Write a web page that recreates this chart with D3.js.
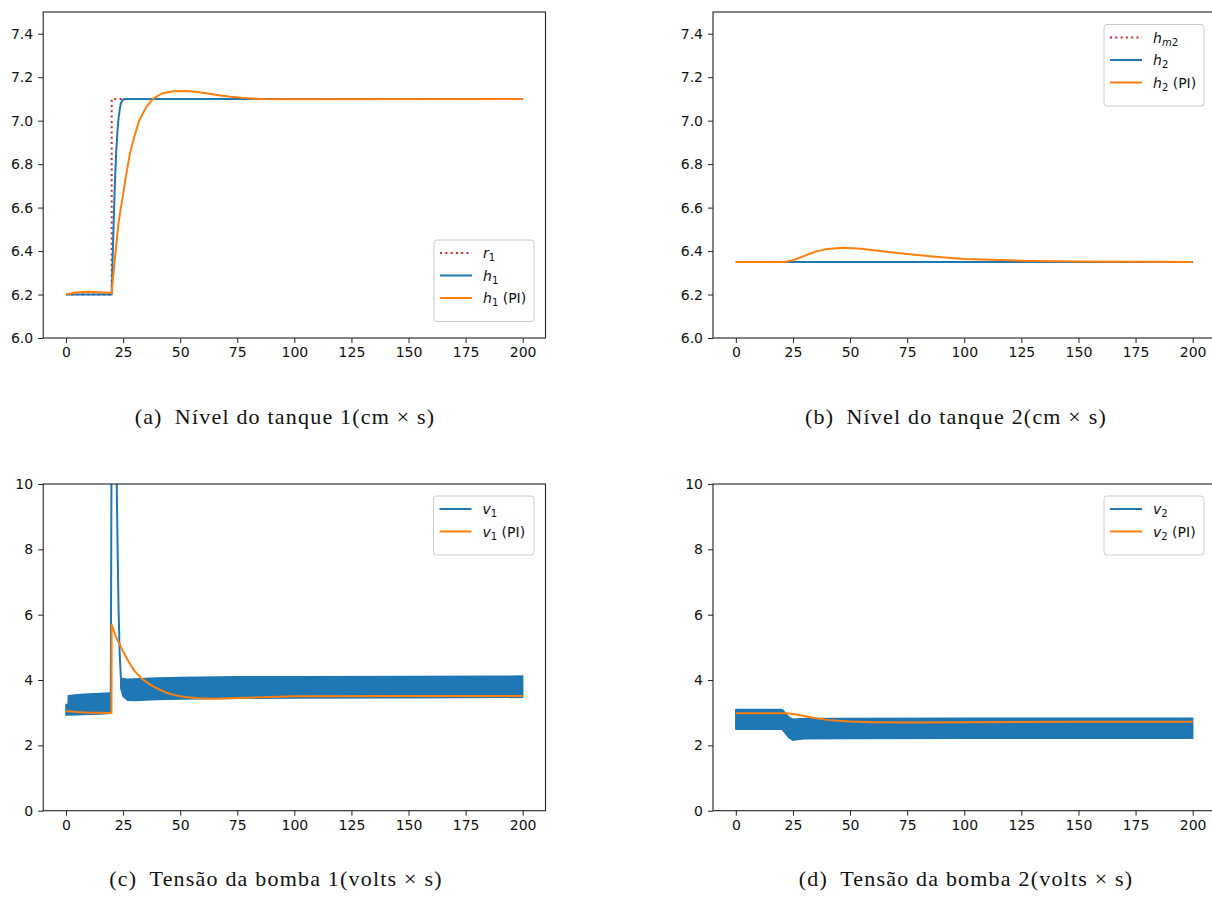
<!DOCTYPE html>
<html>
<head>
<meta charset="utf-8">
<script src="https://cdn.jsdelivr.net/npm/d3@7"></script>
<style>
  body { margin: 0; background: #fff; }
  svg { display: block; }
  .tick text { font-family: "DejaVu Sans", sans-serif; font-size: 14px; fill: #111; }
  .cap { font-family: "Liberation Serif", "DejaVu Serif", serif; font-size: 22px; letter-spacing: 1.2px; fill: #111; }
  .leg { font-family: "DejaVu Sans", sans-serif; font-size: 14px; fill: #111; }
</style>
</head>
<body>
<div id="chart"></div>
<script>
// ---- data ----
const xTicks = [0, 25, 50, 75, 100, 125, 150, 175, 200];
const hTicks = [6.0, 6.2, 6.4, 6.6, 6.8, 7.0, 7.2, 7.4];
const vTicks = [0, 2, 4, 6, 8, 10];

// (a) tank 1 level
const r1T = [0, 20, 20, 200];
const r1V = [6.2, 6.2, 7.1, 7.1];
const h1T = [0, 20, 20.5, 21, 21.5, 22, 22.5, 23, 23.5, 24, 24.5, 25, 26, 200];
const h1V = [6.2, 6.2, 6.4, 6.58, 6.74, 6.86, 6.95, 7.01, 7.05, 7.08, 7.09, 7.097, 7.1, 7.1];
const h1piT = [0, 2, 5, 10, 15, 20, 21, 22, 23, 24, 25, 26, 27, 28, 30, 32, 35, 38, 42, 47, 52, 57, 62, 67, 72, 77, 85, 95, 110, 200];
const h1piV = [6.2, 6.205, 6.21, 6.213, 6.211, 6.207, 6.32, 6.43, 6.53, 6.6, 6.66, 6.73, 6.79, 6.85, 6.93, 7.0, 7.06, 7.1, 7.125, 7.135, 7.137, 7.133, 7.125, 7.117, 7.11, 7.105, 7.1, 7.098, 7.099, 7.1];

// (b) tank 2 level
const hm2T = [0, 200];
const hm2V = [6.35, 6.35];
const h2T = [0, 200];
const h2V = [6.35, 6.35];
const h2piT = [0, 20, 22, 25, 30, 35, 40, 47, 55, 65, 75, 90, 100, 125, 150, 175, 200];
const h2piV = [6.35, 6.35, 6.351, 6.358, 6.378, 6.398, 6.41, 6.415, 6.411, 6.398, 6.386, 6.371, 6.364, 6.356, 6.352, 6.351, 6.35];

// (c) pump 1 voltage: chattering band (lo/hi envelope) + spike
const v1BandAT = [0, 0.9, 1.0, 5, 10, 15, 19.6];
const v1BandAHi = [3.25, 3.25, 3.52, 3.55, 3.57, 3.59, 3.6];
const v1BandALo = [2.93, 2.93, 2.93, 2.94, 2.95, 2.96, 2.98];
const v1SpikeT = [19.6, 19.8, 20.0, 21.9, 22.2, 22.6, 23.0, 23.5, 24.0, 24.3];
const v1SpikeV = [3.6, 8, 13, 13, 10, 8, 6.2, 4.8, 4.1, 3.7];
const v1BandBT = [24, 25, 27, 30, 40, 50, 75, 100, 150, 200];
const v1BandBHi = [4.0, 4.05, 4.02, 4.03, 4.06, 4.08, 4.1, 4.1, 4.11, 4.12];
const v1BandBLo = [3.75, 3.5, 3.38, 3.37, 3.4, 3.42, 3.44, 3.45, 3.46, 3.47];
const v1piT = [0, 5, 10, 15, 19.9, 20, 22, 25, 27.5, 30, 33, 37, 40, 44, 48, 52, 58, 65, 75, 90, 100, 150, 200];
const v1piV = [3.05, 3.02, 3.0, 3.0, 2.99, 5.7, 5.3, 4.87, 4.55, 4.28, 4.05, 3.85, 3.74, 3.61, 3.53, 3.48, 3.44, 3.43, 3.45, 3.48, 3.5, 3.51, 3.51];

// (d) pump 2 voltage
const v2BandT = [0, 20, 20.5, 22, 23.5, 25, 27, 30, 50, 100, 200];
const v2BandHi = [3.1, 3.1, 3.08, 2.95, 2.85, 2.8, 2.81, 2.82, 2.82, 2.83, 2.83];
const v2BandLo = [2.49, 2.49, 2.47, 2.35, 2.22, 2.16, 2.18, 2.2, 2.21, 2.22, 2.22];
const v2piT = [0, 20, 22, 25, 30, 35, 40, 45, 50, 60, 75, 100, 150, 200];
const v2piV = [2.98, 2.98, 2.98, 2.96, 2.9, 2.83, 2.78, 2.75, 2.73, 2.71, 2.7, 2.71, 2.72, 2.72];

const captions = [
  "(a)\u2002N\u00edvel do tanque 1(cm \u00d7 s)",
  "(b)\u2002N\u00edvel do tanque 2(cm \u00d7 s)",
  "(c)\u2002Tens\u00e3o da bomba 1(volts \u00d7 s)",
  "(d)\u2002Tens\u00e3o da bomba 2(volts \u00d7 s)"
];

const BLUE = "#1f77b4", ORANGE = "#ff7f0e", RED = "#d62728";

const svg = d3.select("#chart").append("svg")
  .attr("width", 1212)
  .attr("height", 898);

const zip = (t, v) => t.map((d, i) => [d, v[i]]);
const zip3 = (t, lo, hi) => t.map((d, i) => [d, lo[i], hi[i]]);

let clipId = 0;
function makePanel(box, yDomain, yTicks, yFmt) {
  const x = d3.scaleLinear().domain([-10, 210]).range([box.left, box.right]);
  const y = d3.scaleLinear().domain(yDomain).range([box.bottom, box.top]);
  const id = "clip" + (clipId++);
  svg.append("clipPath").attr("id", id)
    .append("rect")
    .attr("x", box.left).attr("y", box.top)
    .attr("width", box.right - box.left).attr("height", box.bottom - box.top);
  const plot = svg.append("g").attr("clip-path", "url(#" + id + ")");

  const xAxis = svg.append("g")
    .attr("transform", "translate(0," + box.bottom + ")")
    .call(d3.axisBottom(x).tickValues(xTicks).tickSize(5).tickPadding(4).tickSizeOuter(0));
  const yAxis = svg.append("g")
    .attr("transform", "translate(" + box.left + ",0)")
    .call(d3.axisLeft(y).tickValues(yTicks).tickFormat(yFmt).tickSize(5).tickPadding(5).tickSizeOuter(0));
  [xAxis, yAxis].forEach(a => {
    a.select(".domain").remove();
    a.selectAll(".tick line").attr("stroke", "#222").attr("stroke-width", 1);
  });

  svg.append("rect")
    .attr("x", box.left).attr("y", box.top)
    .attr("width", box.right - box.left).attr("height", box.bottom - box.top)
    .attr("fill", "none").attr("stroke", "#222").attr("stroke-width", 1.1);

  const line = d3.line().x(d => x(d[0])).y(d => y(d[1]));
  const area = d3.area().x(d => x(d[0])).y0(d => y(d[1])).y1(d => y(d[2]));

  return {
    line(pts, color, dash) {
      plot.append("path").datum(pts)
        .attr("d", line)
        .attr("fill", "none").attr("stroke", color).attr("stroke-width", 2)
        .attr("stroke-dasharray", dash || null)
        .attr("stroke-linejoin", "round");
    },
    band(pts, color) {
      plot.append("path").datum(pts)
        .attr("d", area)
        .attr("fill", color).attr("stroke", color).attr("stroke-width", 1.5)
        .attr("stroke-linejoin", "round");
    }
  };
}

// label parts: [text, kind]  kind: i italic, n normal, s subscript, si subscript italic
function legend(x0, y0, w, rows) {
  const g = svg.append("g");
  const h = 14 + rows.length * 22.5;
  g.append("rect")
    .attr("x", x0).attr("y", y0).attr("width", w).attr("height", h)
    .attr("rx", 3).attr("fill", "#fff").attr("fill-opacity", 0.8)
    .attr("stroke", "#ccc").attr("stroke-width", 1);
  rows.forEach((r, i) => {
    const cy = y0 + 13 + i * 22.5;
    g.append("line")
      .attr("x1", x0 + 6).attr("x2", x0 + 38).attr("y1", cy).attr("y2", cy)
      .attr("stroke", r.color).attr("stroke-width", 2)
      .attr("stroke-dasharray", r.dash || null);
    const t = g.append("text").attr("class", "leg")
      .attr("x", x0 + 49).attr("y", cy + 5);
    let shifted = false;
    r.parts.forEach(p => {
      const ts = t.append("tspan").text(p[0]);
      if (p[1] === "i" || p[1] === "si") ts.attr("font-style", "italic");
      if (p[1] === "s" || p[1] === "si") {
        ts.attr("font-size", "10px");
        if (!shifted) { ts.attr("dy", 3); shifted = true; }
      } else if (shifted) {
        ts.attr("dy", -3); shifted = false;
      }
    });
  });
}

const dotted = "2,3.3";
const f1 = d3.format(".1f");
const f0 = d3.format("d");

// (a)
const pa = makePanel({ left: 43.2, right: 545.5, top: 12, bottom: 338 }, [6, 7.5], hTicks, f1);
pa.line(zip(r1T, r1V), RED, dotted);
pa.line(zip(h1T, h1V), BLUE);
pa.line(zip(h1piT, h1piV), ORANGE);
legend(434, 240, 100, [
  { color: RED, dash: dotted, parts: [["r", "i"], ["1", "s"]] },
  { color: BLUE, parts: [["h", "i"], ["1", "s"]] },
  { color: ORANGE, parts: [["h", "i"], ["1", "s"], ["\u00a0(PI)", "n"]] }
]);

// (b)
const pb = makePanel({ left: 713, right: 1215.5, top: 12, bottom: 338 }, [6, 7.5], hTicks, f1);
pb.line(zip(hm2T, hm2V), RED, dotted);
pb.line(zip(h2T, h2V), BLUE);
pb.line(zip(h2piT, h2piV), ORANGE);
legend(1104, 24.5, 100, [
  { color: RED, dash: dotted, parts: [["h", "i"], ["m", "si"], ["2", "s"]] },
  { color: BLUE, parts: [["h", "i"], ["2", "s"]] },
  { color: ORANGE, parts: [["h", "i"], ["2", "s"], ["\u00a0(PI)", "n"]] }
]);

// (c)
const pc = makePanel({ left: 43.2, right: 545.5, top: 484, bottom: 810.7 }, [0, 10], vTicks, f0);
pc.band(zip3(v1BandAT, v1BandALo, v1BandAHi), BLUE);
pc.line(zip(v1SpikeT, v1SpikeV), BLUE);
pc.band(zip3(v1BandBT, v1BandBLo, v1BandBHi), BLUE);
pc.line(zip(v1piT, v1piV), ORANGE);
legend(433.5, 496, 100.5, [
  { color: BLUE, parts: [["v", "i"], ["1", "s"]] },
  { color: ORANGE, parts: [["v", "i"], ["1", "s"], ["\u00a0(PI)", "n"]] }
]);

// (d)
const pd = makePanel({ left: 713, right: 1215.5, top: 484, bottom: 810.7 }, [0, 10], vTicks, f0);
pd.band(zip3(v2BandT, v2BandLo, v2BandHi), BLUE);
pd.line(zip(v2piT, v2piV), ORANGE);
legend(1104, 496, 100, [
  { color: BLUE, parts: [["v", "i"], ["2", "s"]] },
  { color: ORANGE, parts: [["v", "i"], ["2", "s"], ["\u00a0(PI)", "n"]] }
]);

// captions
const capPos = [[285, 424], [956, 424], [276, 886], [966, 886]];
captions.forEach((c, i) => {
  svg.append("text").attr("class", "cap")
    .attr("x", capPos[i][0]).attr("y", capPos[i][1])
    .attr("text-anchor", "middle")
    .text(c);
});
</script>
</body>
</html>
